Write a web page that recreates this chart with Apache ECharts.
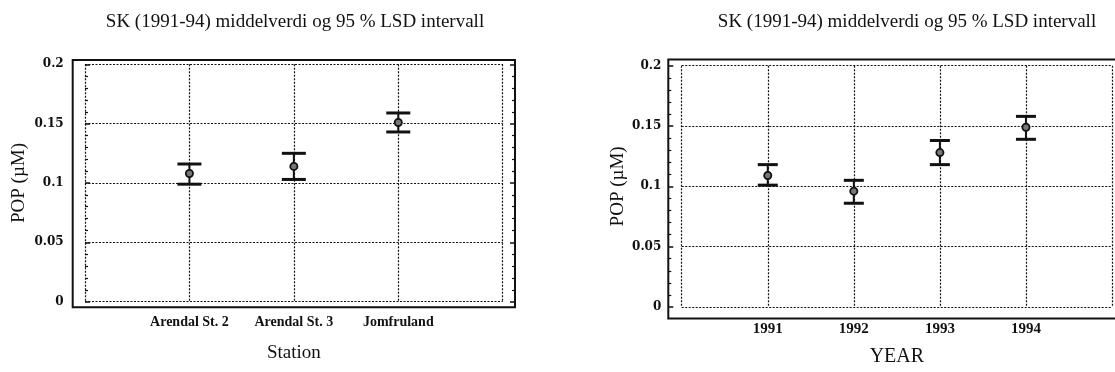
<!DOCTYPE html>
<html>
<head>
<meta charset="utf-8">
<script src="https://cdn.jsdelivr.net/npm/echarts@6/dist/echarts.min.js"></script>
<style>
  html, body { margin: 0; padding: 0; background: #fff; }
  #chart { width: 1115px; height: 372px; }
</style>
</head>
<body>
<div id="chart"></div>
<script>
// ---- data ----
const titleText = 'SK (1991-94) middelverdi og 95 % LSD intervall';
const yName = 'POP (µM)';
const stations = ['Arendal St. 2', 'Arendal St. 3', 'Jomfruland'];
const stationMean = [0.108, 0.114, 0.151];
const stationLow  = [0.099, 0.103, 0.143];
const stationHigh = [0.116, 0.125, 0.159];
const years = [1991, 1992, 1993, 1994];
const yearMean = [0.109, 0.096, 0.128, 0.149];
const yearLow  = [0.101, 0.086, 0.118, 0.139];
const yearHigh = [0.118, 0.105, 0.138, 0.158];
const yMin = 0, yMax = 0.2, yStep = 0.05;

// ---- styles ----
const INK = '#111';
const serif = 'Liberation Serif, Times New Roman, serif';
const dotted = { color: '#111', width: 1.2, type: [2, 1.5] };

function errorRenderer(capHalf) {
  return function (params, api) {
    const x = api.value(0), lo = api.value(1), hi = api.value(2), m = api.value(3);
    const pL = api.coord([x, lo]), pH = api.coord([x, hi]), pM = api.coord([x, m]);
    return {
      type: 'group',
      children: [
        { type: 'line', shape: { x1: pL[0], y1: pL[1], x2: pH[0], y2: pH[1] }, style: { stroke: INK, lineWidth: 2 } },
        { type: 'line', shape: { x1: pH[0] - capHalf, y1: pH[1], x2: pH[0] + capHalf, y2: pH[1] }, style: { stroke: INK, lineWidth: 3 } },
        { type: 'line', shape: { x1: pL[0] - capHalf, y1: pL[1], x2: pL[0] + capHalf, y2: pL[1] }, style: { stroke: INK, lineWidth: 3 } },
        { type: 'circle', shape: { cx: pM[0], cy: pM[1], r: 3.6 }, style: { fill: '#777', stroke: INK, lineWidth: 1.8 } }
      ]
    };
  };
}

function yAxes(gridIndex, offset, labelMargin, nameGap) {
  const common = {
    type: 'value', gridIndex: gridIndex, min: yMin, max: yMax, interval: yStep,
    offset: offset,
    axisLine: { show: false },
    axisTick: { show: true, inside: true, length: 5, lineStyle: { color: INK, width: 1.5 } },
    minorTick: { show: true, splitNumber: 5, length: 3, lineStyle: { color: INK, width: 1.2 } }
  };
  return [
    Object.assign({}, common, {
      position: 'left',
      name: yName, nameLocation: 'middle', nameGap: nameGap,
      nameTextStyle: { fontFamily: serif, fontSize: 19, color: INK },
      axisLabel: { margin: labelMargin, fontFamily: 'DejaVu Serif', fontWeight: 'bold', fontSize: 12, color: INK },
      splitLine: { show: true, lineStyle: dotted }
    }),
    Object.assign({}, common, {
      position: 'right',
      axisLabel: { show: false },
      splitLine: { show: false }
    })
  ];
}

const stationData = stations.map((s, i) => [i + 1, stationLow[i], stationHigh[i], stationMean[i]]);
const yearData = years.map((y, i) => [y, yearLow[i], yearHigh[i], yearMean[i]]);

const option = {
  animation: false,
  backgroundColor: '#fff',
  title: [
    { text: titleText, left: 290, top: 8, textAlign: 'center',
      textStyle: { fontFamily: serif, fontSize: 19, fontWeight: 'normal', color: INK } },
    { text: titleText, left: 902, top: 8, textAlign: 'center',
      textStyle: { fontFamily: serif, fontSize: 19, fontWeight: 'normal', color: INK } }
  ],
  grid: [
    { left: 85, top: 64.3, width: 417.7, height: 237.4 },
    { left: 681.7, top: 65.7, width: 430.3, height: 246 }
  ],
  xAxis: [
    {
      type: 'value', gridIndex: 0, min: 0, max: stations.length + 1, interval: 1,
      axisLine: { show: false }, axisTick: { show: false },
      splitLine: { show: true, lineStyle: dotted },
      axisLabel: {
        margin: 14, fontFamily: serif, fontWeight: 'bold', fontSize: 14, color: INK,
        formatter: v => stations[v - 1] || ''
      },
      name: 'Station', nameLocation: 'middle', nameGap: 42,
      nameTextStyle: { fontFamily: serif, fontSize: 19, color: INK }
    },
    {
      type: 'value', gridIndex: 1, min: years[0] - 1, max: years[years.length - 1] + 1, interval: 1,
      axisLine: { show: false }, axisTick: { show: false },
      splitLine: { show: true, lineStyle: dotted },
      axisLabel: {
        margin: 15, fontFamily: serif, fontWeight: 'bold', fontSize: 15, color: INK,
        formatter: v => (years.indexOf(v) >= 0 ? String(v) : '')
      },
      name: 'YEAR', nameLocation: 'middle', nameGap: 40,
      nameTextStyle: { fontFamily: serif, fontSize: 20, color: INK }
    }
  ],
  yAxis: [].concat(yAxes(0, 12.3, 9, 44), yAxes(1, 13.4, 7, 41)),
  graphic: [
    { type: 'rect', shape: { x: 72.7, y: 60, width: 442.3, height: 247.3 },
      style: { fill: 'none', stroke: INK, lineWidth: 2 }, silent: true },
    { type: 'rect', shape: { x: 668.3, y: 59.5, width: 470, height: 259 },
      style: { fill: 'none', stroke: INK, lineWidth: 2 }, silent: true }
  ],
  series: [
    { type: 'custom', xAxisIndex: 0, yAxisIndex: 0, data: stationData,
      encode: { x: 0, y: [1, 2, 3] }, renderItem: errorRenderer(12) },
    { type: 'custom', xAxisIndex: 1, yAxisIndex: 2, data: yearData,
      encode: { x: 0, y: [1, 2, 3] }, renderItem: errorRenderer(10) }
  ]
};

const chart = echarts.init(document.getElementById('chart'), null, { renderer: 'canvas' });
chart.setOption(option);
</script>
</body>
</html>
